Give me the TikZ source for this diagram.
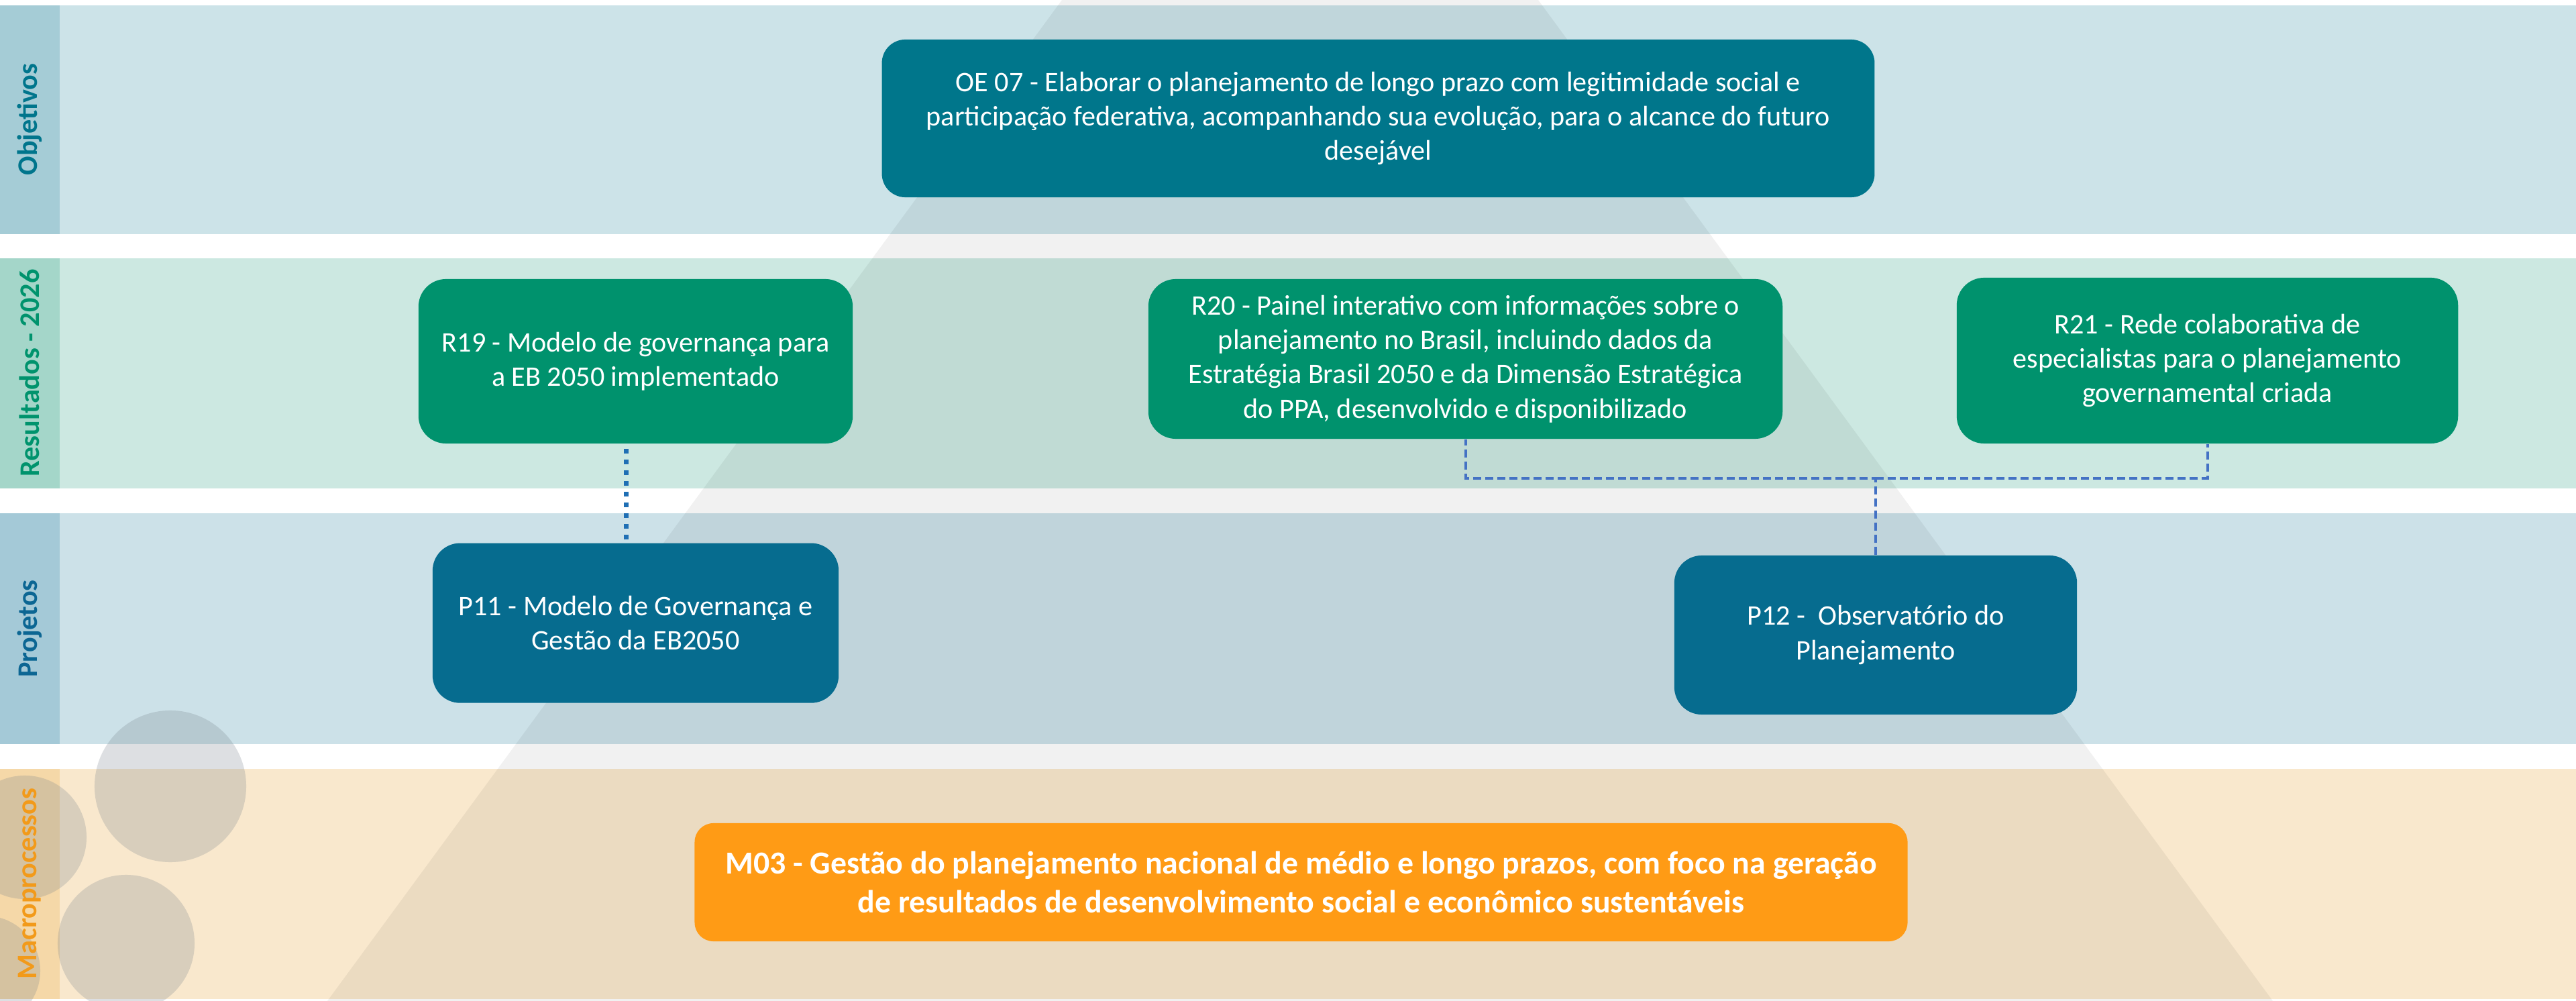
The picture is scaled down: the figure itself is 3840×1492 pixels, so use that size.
\documentclass[tikz,border=0pt]{standalone}
\usepackage{fontspec}
\setmainfont{Carlito}
\usetikzlibrary{positioning,calc}

\definecolor{objfaixa}{RGB}{204,227,232}
\definecolor{objtira}{RGB}{165,204,214}
\definecolor{objtexto}{RGB}{0,117,140}
\definecolor{objcaixa}{RGB}{0,118,139}
\definecolor{resfaixa}{RGB}{204,232,225}
\definecolor{restira}{RGB}{164,214,201}
\definecolor{restexto}{RGB}{0,147,109}
\definecolor{rescaixa}{RGB}{0,146,109}
\definecolor{projfaixa}{RGB}{204,225,232}
\definecolor{projtira}{RGB}{164,201,215}
\definecolor{projtexto}{RGB}{12,102,147}
\definecolor{projcaixa}{RGB}{6,108,143}
\definecolor{macfaixa}{RGB}{249,232,205}
\definecolor{mactira}{RGB}{245,216,168}
\definecolor{mactexto}{RGB}{242,154,26}
\definecolor{maccaixa}{RGB}{255,155,21}
\definecolor{bolha}{RGB}{120,130,140}
\definecolor{azulponto}{RGB}{31,111,180}
\definecolor{azultraco}{RGB}{68,114,196}

\begin{document}
\begin{tikzpicture}[
            x=0.01cm, y=-0.01cm,
            font=\fontsize{12}{14.6}\selectfont,
            % Estilos dos nós
            caixa/.style={rectangle, rounded corners=0.41cm, text=white, align=center, inner sep=0pt},
            objetivo/.style={caixa, rounded corners=0.35cm, fill=objcaixa, minimum width=14.79cm, minimum height=2.35cm},
            resultado/.style={caixa, fill=rescaixa},
            projeto/.style={caixa, fill=projcaixa},
            macro/.style={caixa, rounded corners=0.28cm, fill=maccaixa, minimum width=18.07cm, minimum height=1.76cm, font=\fontsize{13.6}{16.5}\selectfont\bfseries},
            rotulo/.style={rotate=90, font=\fontsize{12}{14}\selectfont\bfseries},
            linkdot/.style={draw=azulponto, line width=0.07cm, dash pattern=on 0.07cm off 0.09cm},
            linkdash/.style={draw=azultraco, line width=0.04cm, dash pattern=on 0.12cm off 0.06cm}
        ]

        \useasboundingbox (0,0) rectangle (3840,1492);
        \clip (0,0) rectangle (3840,1492);
        \fill[white] (0,0) rectangle (3840,1492);

        % Faixas
        \fill[objfaixa] (0,8) rectangle (3840,349);
        \fill[objtira] (0,8) rectangle (89,349);
        \fill[resfaixa] (0,385) rectangle (3840,728);
        \fill[restira] (0,385) rectangle (89,728);
        \fill[projfaixa] (0,765) rectangle (3840,1109);
        \fill[projtira] (0,765) rectangle (89,1109);
        \fill[macfaixa] (0,1146) rectangle (3840,1489);
        \fill[mactira] (0,1146) rectangle (89,1489);

        % Pirâmide e bolhas
        \fill[black, opacity=0.055] (1583,0) -- (2293,0) -- (3388,1492) -- (488,1492) -- cycle;
        \fill[bolha, opacity=0.25] (254,1172) circle (1.13cm);
        \fill[bolha, opacity=0.25] (37,1248) circle (0.92cm);
        \fill[bolha, opacity=0.25] (188,1406) circle (1.02cm);
        \fill[bolha, opacity=0.25] (-22,1447) circle (0.82cm);

        % Rótulos
        \node[rotulo, text=objtexto] (labobj) at (44,178) {Objetivos};
        \node[rotulo, text=restexto] (labres) at (44,556) {Resultados - 2026};
        \node[rotulo, text=projtexto] (labproj) at (44,937) {Projetos};
        \node[rotulo, text=mactexto] (labmac) at (44,1317) {Macroprocessos};

        % Nós
        \node[objetivo] (oe07) at (2054.5,176.5) {OE 07 - Elaborar o planejamento de longo prazo com legitimidade social e\\participação federativa, acompanhando sua evolução, para o alcance do futuro\\desejável};

        \node[resultado, minimum width=6.47cm, minimum height=2.45cm] (r19) at (947.5,538.5) {R19 - Modelo de governança para\\a EB 2050 implementado};
        \node[resultado, minimum width=9.45cm, minimum height=2.38cm] (r20) at (2184.5,535) {R20 - Painel interativo com informações sobre o\\planejamento no Brasil, incluindo dados da\\Estratégia Brasil 2050 e da Dimensão Estratégica\\do PPA, desenvolvido e disponibilizado};
        \node[resultado, minimum width=7.47cm, minimum height=2.47cm] (r21) at (3290.5,537.5) {R21 - Rede colaborativa de\\especialistas para o planejamento\\governamental criada};

        \node[projeto, minimum width=6.05cm, minimum height=2.38cm, below=1.47cm of r19] (p11) {P11 - Modelo de Governança e\\Gestão da EB2050};
        \node[projeto, minimum width=6cm, minimum height=2.37cm] (p12) at (2796,946.5) {P12 - \ Observatório do\\Planejamento};

        \node[macro] (m03) at (1939.5,1315) {M03 - Gestão do planejamento nacional de médio e longo prazos, com foco na geração\\de resultados de desenvolvimento social e econômico sustentáveis};

        % Ligações
        \draw[linkdot, shorten <=0.07cm] ([xshift=-0.14cm]r19.south) -- ([xshift=-0.14cm]r19.south |- p11.north);

        \coordinate (juncao) at (p12.north |- 0,713);
        \draw[linkdash] (p12.north) -- (juncao) -| (r20.south);
        \draw[linkdash] (juncao) -| (r21.south);

    \end{tikzpicture}
\end{document}
